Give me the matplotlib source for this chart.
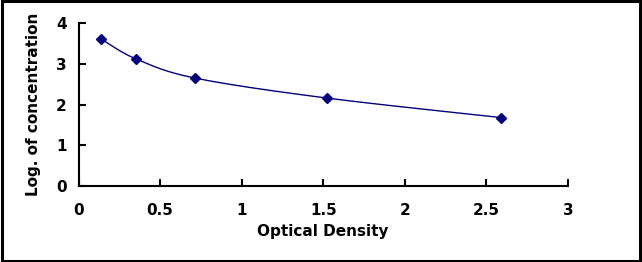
import numpy as np
import matplotlib
matplotlib.use("Agg")
import matplotlib.pyplot as plt
from matplotlib.patches import Rectangle

od = [0.138, 0.352, 0.714, 1.52, 2.59]
logc = [3.61, 3.12, 2.65, 2.16, 1.68]
xticks = [0, 0.5, 1, 1.5, 2, 2.5, 3]
xtick_labels = ["0", "0.5", "1", "1.5", "2", "2.5", "3"]
yticks = [0, 1, 2, 3, 4]
ytick_labels = ["0", "1", "2", "3", "4"]

plt.rcParams['font.family'] = ['DejaVu Sans']

def excel_smooth(x, y, n=40):
    x = np.asarray(x, float); y = np.asarray(y, float)
    px = np.concatenate([[x[0]], x, [x[-1]]])
    py = np.concatenate([[y[0]], y, [y[-1]]])
    xs, ys = [], []
    t = np.linspace(0, 1, n)
    for i in range(1, len(px) - 2):
        p0 = np.array([px[i], py[i]]); p3 = np.array([px[i+1], py[i+1]])
        p1 = p0 + (np.array([px[i+1], py[i+1]]) - np.array([px[i-1], py[i-1]])) / 6
        p2 = p3 - (np.array([px[i+2], py[i+2]]) - np.array([px[i], py[i]])) / 6
        b = ((1-t)**3)[:, None]*p0 + (3*(1-t)**2*t)[:, None]*p1 + (3*(1-t)*t**2)[:, None]*p2 + (t**3)[:, None]*p3
        xs.extend(b[:, 0]); ys.extend(b[:, 1])
    return np.array(xs), np.array(ys)

fig = plt.figure(figsize=(6.42, 2.62), dpi=100)
ax = fig.add_axes([0.1223, 0.290, 0.7624, 0.622])
sx, sy = excel_smooth(od, logc)
ax.plot(sx, sy, color='#000080', lw=1.0)
ax.plot(od, logc, linestyle='none', marker='D', ms=5, color='#000080', mec='#000080')

ax.set_xlim(0, 3)
ax.set_ylim(0, 4)
ax.set_xticks(xticks)
ax.set_xticklabels(xtick_labels)
ax.set_yticks(yticks)
ax.set_yticklabels(ytick_labels)
for s in ['top', 'right']:
    ax.spines[s].set_visible(False)
for s in ['left', 'bottom']:
    ax.spines[s].set_linewidth(1.5)
ax.tick_params(axis='both', direction='in', length=5, width=1.5, labelsize=11)
ax.tick_params(axis='x', pad=12.5)
ax.tick_params(axis='y', pad=8.3)
for lab in ax.get_xticklabels() + ax.get_yticklabels():
    lab.set_fontweight('bold')
ax.set_xlabel('Optical Density', fontsize=11, fontweight='bold', labelpad=4)
ax.set_ylabel('Log. of concentration', fontsize=11, fontweight='bold', labelpad=11)
ax.patch.set_alpha(0)

fig.patches.append(Rectangle((0.003, 0.005), 0.994, 0.99, transform=fig.transFigure,
                             fill=False, edgecolor='black', linewidth=2.2))
fig.savefig('out.png', dpi=100)
